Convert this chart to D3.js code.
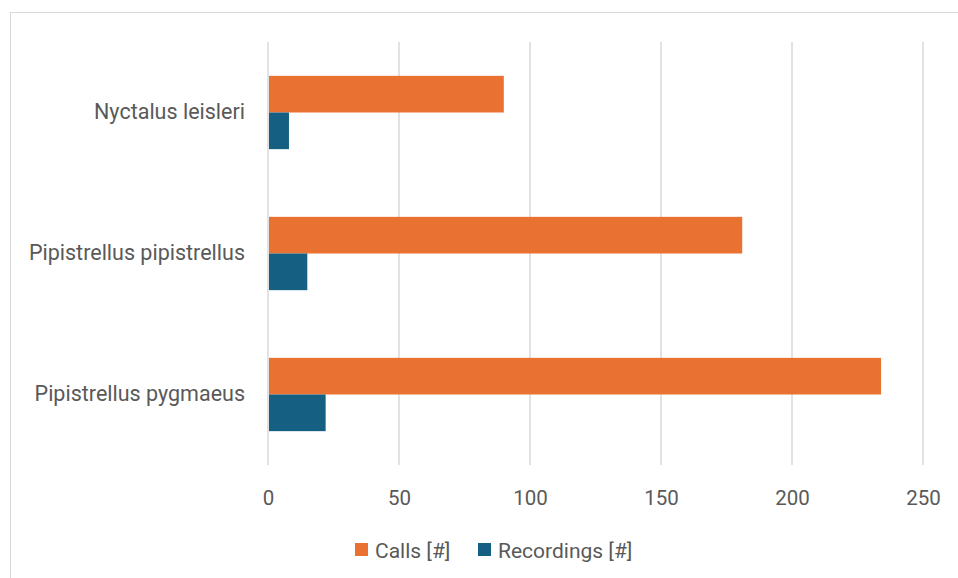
<!DOCTYPE html>
<html>
<head>
<meta charset="utf-8">
<script src="https://cdn.jsdelivr.net/npm/d3@7"></script>
<style>
  html, body { margin: 0; padding: 0; background: #fff; }
  svg { display: block; }
  text { font-family: Roboto, "Noto Sans", sans-serif; fill: #595959; }
</style>
</head>
<body>
<svg id="chart" width="958" height="578"></svg>
<script>
// Bat species counts
const species = ["Nyctalus leisleri", "Pipistrellus pipistrellus", "Pipistrellus pygmaeus"];
const calls = [90, 181, 234];
const recordings = [8, 15, 22];
const seriesNames = ["Calls [#]", "Recordings [#]"];
const seriesColors = ["#E97132", "#156082"];
const xTicks = [0, 50, 100, 150, 200, 250];

const svg = d3.select("#chart");
const W = 958, H = 578;
const margin = { top: 42, right: 35, bottom: 113, left: 268 };
const plotH = H - margin.top - margin.bottom;

// chart frame
svg.append("rect")
  .attr("x", 10.5).attr("y", 12.5)
  .attr("width", W).attr("height", H)
  .attr("fill", "none").attr("stroke", "#D9D9D9").attr("stroke-width", 1);

const g = svg.append("g").attr("transform", `translate(${margin.left},${margin.top})`);

const x = d3.scaleLinear().domain([0, 250]).range([0, 655]);
const y = d3.scaleBand().domain(species).range([0, plotH]).paddingInner(0.48).paddingOuter(0.24);
const sub = d3.scaleBand().domain([0, 1]).range([0, y.bandwidth()]);

// vertical gridlines
g.selectAll(".grid").data(xTicks).join("line")
  .attr("class", "grid")
  .attr("x1", d => x(d)).attr("x2", d => x(d))
  .attr("y1", 0).attr("y2", plotH)
  .attr("stroke", "#D9D9D9").attr("stroke-width", 1.5);

// x axis labels
const xAxis = d3.axisBottom(x).tickValues(xTicks).tickSize(0).tickPadding(0);
const xa = g.append("g").attr("transform", `translate(0,${plotH})`).call(xAxis);
xa.select(".domain").remove();
xa.selectAll("text")
  .attr("y", 40).attr("dy", null)
  .style("font-size", "20.5px").style("font-family", "Roboto, 'Noto Sans', sans-serif")
  .attr("fill", "#595959");

// category labels
const yAxis = d3.axisLeft(y).tickSize(0).tickPadding(23);
const ya = g.append("g").call(yAxis);
ya.select(".domain").remove();
ya.selectAll("text")
  .style("font-size", "21.5px").style("font-family", "Roboto, 'Noto Sans', sans-serif")
  .attr("fill", "#595959");

// bars
const rows = species.map((s, i) => ({ s, vals: [calls[i], recordings[i]] }));
const grp = g.selectAll(".cat").data(rows).join("g")
  .attr("transform", d => `translate(0,${y(d.s)})`);
grp.selectAll("rect").data(d => d.vals.map((v, k) => ({ v, k }))).join("rect")
  .attr("x", x(0) + 1)
  .attr("y", d => sub(d.k))
  .attr("width", d => x(d.v) - x(0) - 1)
  .attr("height", sub.bandwidth())
  .attr("fill", d => seriesColors[d.k]);

// legend
const legend = svg.append("g");
const legendX = [355, 478];
seriesNames.forEach((name, k) => {
  legend.append("rect")
    .attr("x", legendX[k]).attr("y", 543)
    .attr("width", 13).attr("height", 13)
    .attr("fill", seriesColors[k]);
  legend.append("text")
    .attr("x", legendX[k] + 20).attr("y", 557.5)
    .style("font-size", "21px")
    .text(name);
});
</script>
</body>
</html>
